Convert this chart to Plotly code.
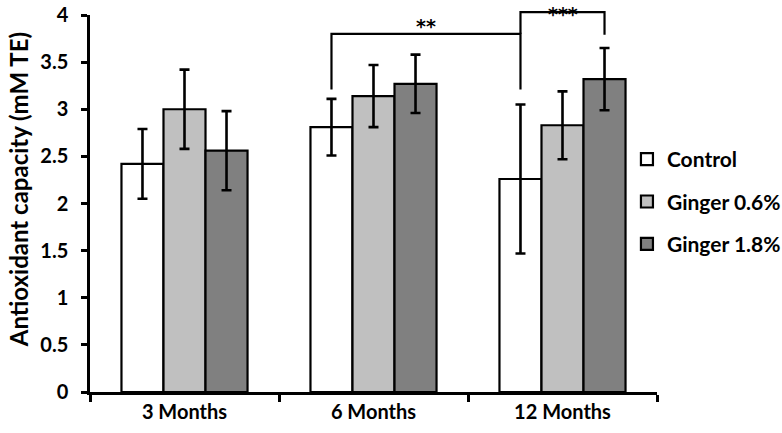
import plotly.graph_objects as go

# data
periods = ["3 Months", "6 Months", "12 Months"]
groups = ["Control", "Ginger 0.6%", "Ginger 1.8%"]
control = [2.42, 2.81, 2.26]
control_sd = [0.37, 0.30, 0.79]
ginger06 = [3.00, 3.14, 2.83]
ginger06_sd = [0.42, 0.33, 0.36]
ginger18 = [2.56, 3.27, 3.32]
ginger18_sd = [0.42, 0.31, 0.33]

# significance brackets: (period idx, group idx) -> (period idx, group idx)
sig_from = [(1, 0), (2, 0)]
sig_to = [(2, 0), (2, 2)]
sig_top = [3.80, 4.03]
sig_leg_left = [3.21, 3.80]
sig_leg_right = [3.21, 3.79]
sig_labels = ["**", "***"]
sig_label_y = [3.94, 4.06]

colors = ["#ffffff", "#c0c0c0", "#808080"]
Y_MAX = 4
BARGAP = 0.333

bold = dict(family="Lato", size=20, color="black", weight="bold")

fig = go.Figure()
for name, vals, sd, col in zip(groups, [control, ginger06, ginger18],
                               [control_sd, ginger06_sd, ginger18_sd], colors):
    fig.add_trace(go.Bar(
        x=periods, y=vals, name=name, legendgroup=name,
        marker=dict(color=col, line=dict(color="black", width=2.2)),
        error_y=dict(type="data", array=sd, color="black", thickness=2.6, width=5),
    ))

bar_w = (1 - BARGAP) / len(groups)


def bar_x(pos):
    p, g = pos
    return p + (g - 1) * bar_w


def to_paper(v):
    return v / Y_MAX


for a, b, top, yl, yr, lab, ly in zip(sig_from, sig_to, sig_top, sig_leg_left,
                                      sig_leg_right, sig_labels, sig_label_y):
    xa, xb = bar_x(a), bar_x(b)
    fig.add_shape(type="path", xref="x", yref="paper",
                  path=f"M{xa},{to_paper(yl)} L{xa},{to_paper(top)} "
                       f"L{xb},{to_paper(top)} L{xb},{to_paper(yr)}",
                  line=dict(color="black", width=2.2))
    # asterisks: DejaVu has bigger stars than Lato
    fig.add_annotation(x=(xa + xb) / 2, y=to_paper(ly), xref="x", yref="paper",
                       text=lab, showarrow=False, yanchor="middle", yshift=-5,
                       font=dict(bold, family="DejaVu Sans", size=19))

# y axis title as a rotated annotation (sits a little above the plot centre)
fig.add_annotation(x=-0.127, y=0.538, xref="paper", yref="paper",
                   text="Antioxidant capacity (mM TE)", textangle=-90,
                   showarrow=False, xanchor="center", yanchor="middle",
                   font=dict(bold, size=24))

fig.update_layout(
    width=782, height=433,
    margin=dict(l=90, r=125, t=15, b=41, autoexpand=False),
    barmode="group", bargap=BARGAP, bargroupgap=0,
    plot_bgcolor="white", paper_bgcolor="white",
    font=bold,
    legend=dict(x=0.947, xanchor="left", y=0.671, yanchor="top",
                bgcolor="rgba(0,0,0,0)", tracegroupgap=12,
                font=dict(bold, size=21)),
)
fig.update_xaxes(
    showline=True, linecolor="black", linewidth=2.5, automargin=False,
    ticks="outside", tickson="boundaries", ticklen=7, tickwidth=2.5,
    tickcolor="black", showgrid=False, tickfont=bold,
)
fig.update_yaxes(
    range=[0, Y_MAX], dtick=0.5, showline=True, linecolor="black", linewidth=2.5,
    ticks="outside", ticklen=6, tickwidth=2.5, tickcolor="black", automargin=False,
    showgrid=False, zeroline=False, ticklabelstandoff=9, tickfont=bold,
)

fig.write_html("out.html", config={"displayModeBar": False},
               post_script="document.body.style.margin='0';")
